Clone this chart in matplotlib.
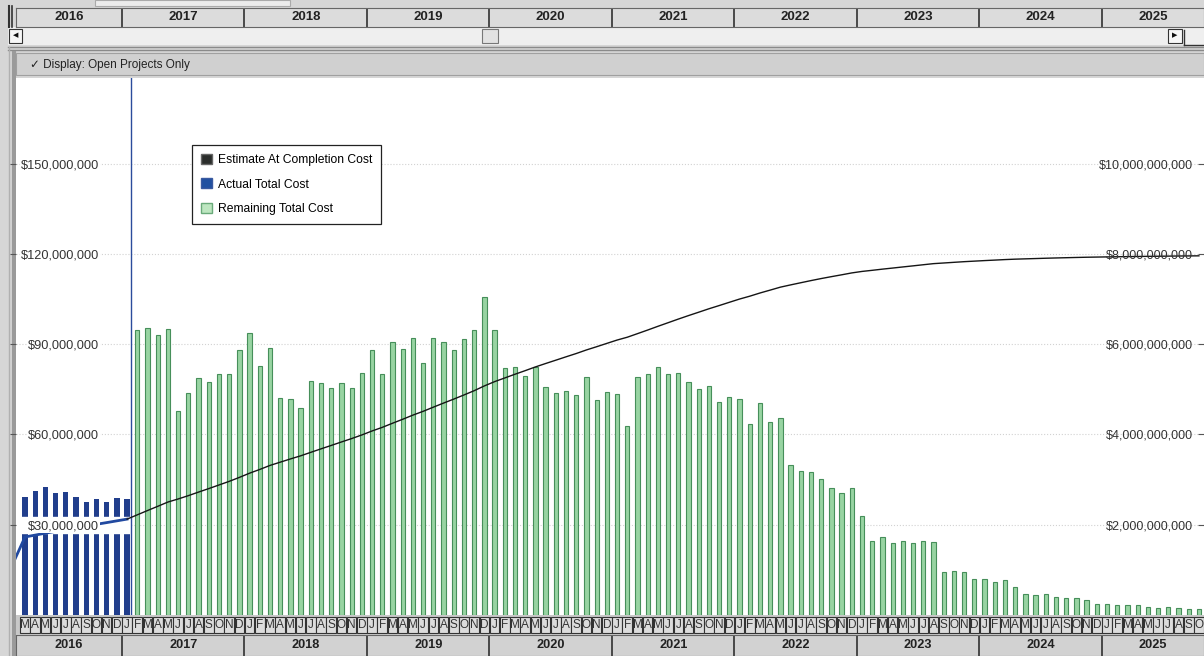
import numpy as np
import matplotlib.pyplot as plt
from matplotlib.patches import Rectangle, Patch

plt.rcParams['font.family'] = ['Liberation Sans', 'DejaVu Sans']

# monthly costs in $ millions, first month is Mar 2016
actual_cost = [39.3, 41.2, 42.6, 40.5, 40.8, 39.3, 37.7, 38.5, 37.7, 38.8, 38.5]
remaining_cost = [
    94.7, 95.3, 93.1, 95.1, 67.8, 73.9, 78.9, 77.4, 80.0, 80.0, 88.1,          # 2017 (Feb-Dec)
    93.6, 82.8, 88.9, 72.0, 71.7, 68.9, 77.8, 77.2, 75.4, 77.0, 75.4, 80.3,    # 2018
    88.1, 80.0, 90.8, 88.4, 92.0, 83.9, 92.0, 90.8, 88.1, 91.6, 94.7, 105.8,   # 2019
    94.7, 82.0, 82.3, 79.5, 82.3, 75.7, 73.9, 74.6, 73.1, 79.2, 71.5, 74.0,    # 2020
    73.5, 62.9, 79.2, 80.0, 82.5, 80.0, 80.3, 77.6, 75.0, 76.1, 70.7, 72.6,    # 2021
    71.9, 63.4, 70.6, 64.3, 65.4, 49.9, 48.0, 47.6, 45.2, 42.1, 40.7, 42.1,    # 2022
    32.9, 24.7, 26.0, 24.0, 24.7, 24.0, 24.7, 24.4, 14.4, 14.7, 14.4, 12.0,    # 2023
    12.0, 10.9, 11.6, 9.2, 7.0, 6.6, 7.0, 6.1, 5.5, 5.5, 5.0, 3.7,             # 2024
    3.6, 3.2, 3.2, 3.2, 2.8, 2.4, 2.8, 2.4, 1.9, 1.9,                          # 2025 (Jan-Oct)
]
opening_actual = 1.69e9   # cumulative actual before Mar 2016
edge_actual = 1.23e9      # cumulative at Feb 2016 (left edge of view)
data_date = 10.4          # just after Jan 2017

years = list(range(2016, 2026))
month_initials = list("JFMAMJJASOND")
first_month = 2           # March
left_ticks = [30e6, 60e6, 90e6, 120e6, 150e6]
right_ticks = [2e9, 4e9, 6e9, 8e9, 10e9]

actual = np.array(actual_cost) * 1e6
remaining = np.array(remaining_cost) * 1e6
n_act, n_rem = len(actual), len(remaining)
x_act = np.arange(n_act)
x_rem = np.arange(n_act, n_act + n_rem)
n = n_act + n_rem
month_labels = [month_initials[(first_month + i) % 12] for i in range(n)]

actual_cum = opening_actual + np.cumsum(actual)
eac_cum = actual_cum[-1] + np.cumsum(remaining)

# ---- layout in pixels
W, H = 1204, 656
def fbox(x0, y0, x1, y1):
    return [x0 / W, 1 - y1 / H, (x1 - x0) / W, (y1 - y0) / H]

px2m = lambda px: (px - 25.0) / 10.208
X0, X1 = px2m(16), px2m(1204)
YTOP = 178.5e6
RATIO = 200 / 3           # right axis / left axis

fig = plt.figure(figsize=(W / 100, H / 100), dpi=100)
fig.patch.set_facecolor('#d6d6d6')

# window chrome, pixel coords
ch = fig.add_axes([0, 0, 1, 1], zorder=0)
ch.set_xlim(0, W)
ch.set_ylim(H, 0)
ch.axis('off')
ch.add_patch(Rectangle((95, 0), 195, 6, fc='#ececec', ec='#aaaaaa', lw=0.8))
ch.add_patch(Rectangle((8, 27), W - 8, 18, fc='#efefef', ec='none'))
ch.add_patch(Rectangle((9, 29), 13, 14, fc='#f7f7f7', ec='#333333', lw=0.8))
ch.text(15.5, 36, '◀', fontsize=5, ha='center', va='center', color='#111')
ch.add_patch(Rectangle((482, 29), 16, 14, fc='#e2e2e2', ec='#777777', lw=0.8))
ch.add_patch(Rectangle((1168, 29), 14, 14, fc='#f7f7f7', ec='#333333', lw=0.8))
ch.text(1175, 36, '▶', fontsize=5, ha='center', va='center', color='#111')
ch.plot([1184, 1204], [45, 45], color='#333', lw=1)
ch.plot([1184, 1184], [30, 45], color='#333', lw=1)
ch.plot([1186, 1202], [18, 18], color='#333', lw=1)
ch.plot([8, W], [47, 47], color='#8a8a8a', lw=1)
ch.plot([8, W], [50, 50], color='#8a8a8a', lw=1)
ch.add_patch(Rectangle((16, 53), W - 16, 22, fc='#d0d0d0', ec='#a0a0a0', lw=0.8))
ch.text(30, 65, '✓ Display: Open Projects Only', fontsize=8.5, va='center', color='#222')
ch.plot([9, 9], [6, 27], color='#333', lw=1.5)
ch.plot([12, 12], [6, 27], color='#333', lw=1.2)
ch.plot([14, 14], [53, 656], color='#9a9a9a', lw=3)
ch.plot([9, 9], [47, 656], color='#b0b0b0', lw=1)

# main plot
ax = fig.add_axes(fbox(16, 78, 1204, 615), zorder=1)
ax.set_facecolor('white')
ax.set_xlim(X0, X1)
ax.set_ylim(0, YTOP)
for v in left_ticks:
    ax.axhline(v, linestyle=':', color='#d2d2d2', lw=0.8, zorder=0)
ax.bar(x_act, actual, width=0.52, color='#213e8c', zorder=2)
ax.bar(x_rem, remaining, width=0.42, color='#98d4a2', edgecolor='#468f5a', lw=0.8, zorder=2)
ax.axhspan(27.3e6, 32.6e6, xmin=0, xmax=(data_date - X0) / (X1 - X0), color='white', zorder=2.2)
ax.axvline(data_date, color='#2b4c9c', lw=1.0, zorder=2.3)

# cumulative lines (right-axis units, drawn on the main axes scaled)
ax.plot(np.r_[-1, x_act], np.r_[edge_actual, actual_cum] / RATIO, color='#2149a0', lw=2, zorder=2.5)
ax.plot(np.r_[x_act[-1], x_rem], np.r_[actual_cum[-1], eac_cum] / RATIO, color='#151515', lw=1.0, zorder=2.5)

ax.set_xticks([])
ax.set_yticks(left_ticks, labels=[f"${v:,.0f}" for v in left_ticks])
ax.tick_params(axis='y', direction='out', length=4, pad=-64, labelsize=9.2,
               labelcolor='#333333', color='#555555')
for lab in ax.get_yticklabels():
    lab.set_bbox(dict(facecolor='white', edgecolor='none', pad=0.5))
ax.yaxis.set_zorder(3)
for s in ax.spines.values():
    s.set_visible(False)

ax2 = ax.twinx()
ax2.set_ylim(0, YTOP * RATIO)
ax2.set_yticks(right_ticks, labels=[f"${v:,.0f}" for v in right_ticks], ha='right')
ax2.tick_params(axis='y', direction='in', length=4, pad=-8, labelsize=9.0,
                labelcolor='#333333', color='#555555')
for s in ax2.spines.values():
    s.set_visible(False)

handles = [Patch(facecolor='#2a2d2b', edgecolor='#666666'),
           Patch(facecolor='#2050a0', edgecolor='#3a5aa0'),
           Patch(facecolor='#bde6c0', edgecolor='#6aaa7a')]
leg = ax2.legend(handles, ['Estimate At Completion Cost', 'Actual Total Cost', 'Remaining Total Cost'],
                 loc='upper left', bbox_to_anchor=(0.148, 0.875), borderaxespad=0,
                 fontsize=8.7, handlelength=0.9, handleheight=0.9, handletextpad=0.5,
                 labelspacing=1.0, borderpad=0.75, fancybox=False, framealpha=1)
leg.get_frame().set_edgecolor('#222222')
leg.get_frame().set_linewidth(0.9)

# timescale rows
year_bounds = [-2.5 + 12 * k for k in range(len(years) + 1)]

def year_row(box, fs, bg):
    a = fig.add_axes(fbox(*box), zorder=1)
    a.set_xlim(X0, X1)
    a.set_ylim(0, 1)
    a.set_facecolor(bg)
    a.set_xticks([])
    a.set_yticks([])
    for s in a.spines.values():
        s.set_color('#666666')
        s.set_linewidth(0.8)
    for k, yr in enumerate(years):
        lo, hi = max(year_bounds[k], X0), min(year_bounds[k + 1], X1)
        if k > 0:
            a.axvline(year_bounds[k], color='#222222', lw=1.1)
        a.text((lo + hi) / 2, 0.5, str(yr), ha='center', va='center', fontsize=fs,
               color='#222222', fontweight='semibold')
    return a

year_row((16, 8, 1204, 27), 9.5, '#dcdcdc')
year_row((16, 635, 1204, 656), 9.2, '#d2d2d2')

mrow = fig.add_axes(fbox(16, 615, 1204, 635), zorder=1)
mrow.set_xlim(X0, X1)
mrow.set_ylim(0, 1)
mrow.set_facecolor('#c8c8c8')
mrow.set_xticks([])
mrow.set_yticks([])
for s in mrow.spines.values():
    s.set_visible(False)
for i, lab in enumerate(month_labels):
    mrow.add_patch(Rectangle((i - 0.47, 0.08), 0.94, 0.84, fc='#dcdcdc', ec='#333333', lw=0.8))
    mrow.text(i, 0.48, lab, ha='center', va='center', fontsize=8.5, color='#333333')

fig.savefig('out.png', dpi=100)
